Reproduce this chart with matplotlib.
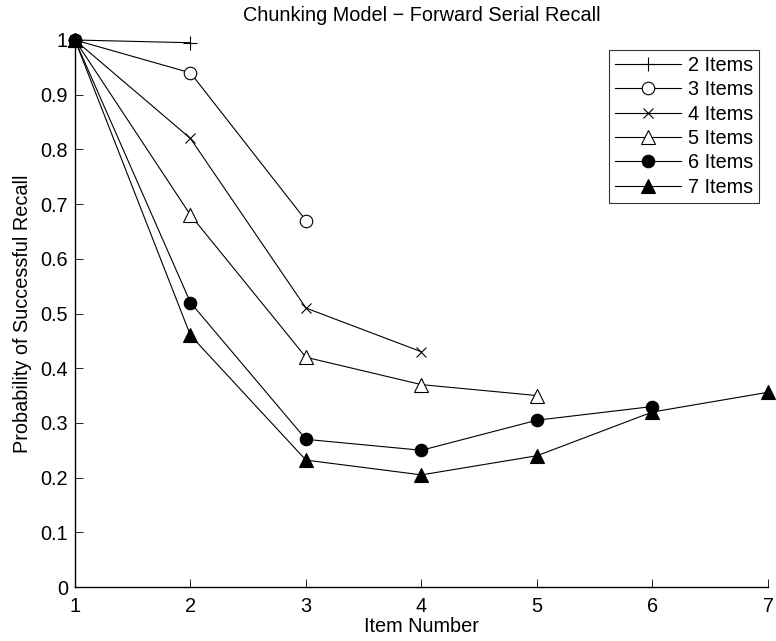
import matplotlib
matplotlib.use('Agg')
import matplotlib.pyplot as plt

plt.rcParams['font.family'] = ['Liberation Sans', 'DejaVu Sans']

ITEM_NUMBERS = [1, 2, 3, 4, 5, 6, 7]
LABELS = ['2 Items', '3 Items', '4 Items', '5 Items', '6 Items', '7 Items']
RECALL_2 = [1.0, 0.995]
RECALL_3 = [1.0, 0.94, 0.67]
RECALL_4 = [1.0, 0.82, 0.51, 0.43]
RECALL_5 = [1.0, 0.68, 0.42, 0.37, 0.35]
RECALL_6 = [1.0, 0.52, 0.27, 0.25, 0.305, 0.33]
RECALL_7 = [1.0, 0.46, 0.232, 0.205, 0.24, 0.32, 0.356]
Y_TICKS = [0, 0.1, 0.2, 0.3, 0.4, 0.5, 0.6, 0.7, 0.8, 0.9, 1]
Y_TICK_LABELS = ['0', '0.1', '0.2', '0.3', '0.4', '0.5', '0.6', '0.7', '0.8', '0.9', '1']

FS = 14.3

series = [RECALL_2, RECALL_3, RECALL_4, RECALL_5, RECALL_6, RECALL_7]
# (marker, face colour, size)
styles = [('+', 'none', 10), ('o', 'white', 9), ('x', 'none', 6.5),
          ('^', 'white', 10), ('o', 'black', 9), ('^', 'black', 10)]

fig = plt.figure(figsize=(7.76, 6.41), dpi=100)
ax = fig.add_axes([0.0966, 0.0842, 0.8931, 0.8534])

for vals, (m, fc, ms), lab in zip(series, styles, LABELS):
    ax.plot(ITEM_NUMBERS[:len(vals)], vals, color='black', lw=0.8,
            marker=m, markerfacecolor=fc, markeredgecolor='black',
            markersize=ms, markeredgewidth=0.8, label=lab, clip_on=False)

ax.set_xlim(1, 7)
ax.set_ylim(0, 1)
ax.set_xticks(ITEM_NUMBERS)
ax.set_yticks(Y_TICKS)
ax.set_yticklabels(Y_TICK_LABELS)
ax.tick_params(direction='in', length=6, width=0.6, labelsize=FS)
ax.tick_params(axis='x', pad=7)
ax.tick_params(axis='y', pad=5)
for s in ('top', 'right'):
    ax.spines[s].set_visible(False)
for s in ('left', 'bottom'):
    ax.spines[s].set_linewidth(1.0)

ax.set_xlabel('Item Number', fontsize=FS, labelpad=1)
ax.set_ylabel('Probability of Successful Recall', fontsize=FS, labelpad=6)
ax.set_title('Chunking Model \u2212 Forward Serial Recall', fontsize=FS, pad=14)

leg = ax.legend(loc='upper right', bbox_to_anchor=(0.987, 0.982), fontsize=FS,
                frameon=True, fancybox=False, handlelength=3.3,
                labelspacing=0.27, borderpad=0.3, handletextpad=0.35,
                borderaxespad=0)
leg.get_frame().set_edgecolor('black')
leg.get_frame().set_linewidth(0.8)

fig.savefig('out.png', dpi=100)
